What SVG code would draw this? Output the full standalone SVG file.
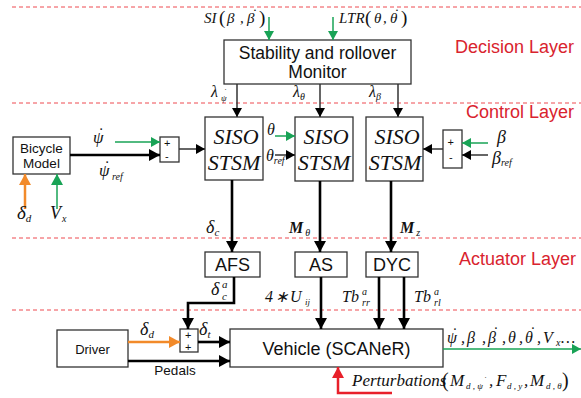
<svg xmlns="http://www.w3.org/2000/svg" width="581" height="398" viewBox="0 0 581 398">
<defs>
<style>
.dash{stroke:#ee4b50;stroke-width:1;stroke-dasharray:4,3;fill:none}
.layer{font-family:"Liberation Sans",Arial,sans-serif;font-size:18px;fill:#d9232e}
.box{fill:#fff;stroke:#333;stroke-width:1.3}
.sans{font-family:"Liberation Sans",Arial,sans-serif;fill:#111}
.it{font-family:"Liberation Serif","Times New Roman",serif;font-style:italic;fill:#111}
.up{font-family:"Liberation Serif","Times New Roman",serif;font-style:normal;fill:#111}
.dot{text-anchor:middle}
.thick{stroke:#000;stroke-width:2.6;fill:none}
.thin{stroke:#333;stroke-width:1.5;fill:none}
.green{stroke:#19a356;stroke-width:1.5;fill:none}
.orange{stroke:#f28a2a;stroke-width:2.5;fill:none}
.red{stroke:#e8202a;stroke-width:2.5;fill:none}
</style>
<marker id="aBig" markerUnits="userSpaceOnUse" markerWidth="12" markerHeight="12" refX="11" refY="6" orient="auto"><path d="M0,0 L11,6 L0,12 Z" fill="#000"/></marker>
<marker id="aMid" markerUnits="userSpaceOnUse" markerWidth="10" markerHeight="10" refX="9" refY="5" orient="auto"><path d="M0,0 L9,5 L0,10 Z" fill="#000"/></marker>
<marker id="aGreen" markerUnits="userSpaceOnUse" markerWidth="10" markerHeight="10" refX="9" refY="5" orient="auto"><path d="M0,0 L9,5 L0,10 Z" fill="#19a356"/></marker>
<marker id="aGreenBig" markerUnits="userSpaceOnUse" markerWidth="12" markerHeight="12" refX="11" refY="6" orient="auto"><path d="M0,0 L11,6 L0,12 Z" fill="#19a356"/></marker>
<marker id="aOrange" markerUnits="userSpaceOnUse" markerWidth="12" markerHeight="12" refX="11" refY="6" orient="auto"><path d="M0,0 L11,6 L0,12 Z" fill="#f28a2a"/></marker>
<marker id="aRed" markerUnits="userSpaceOnUse" markerWidth="12" markerHeight="12" refX="11" refY="6" orient="auto"><path d="M0,0 L11,6 L0,12 Z" fill="#e8202a"/></marker>
</defs>
<rect width="581" height="398" fill="#fff"/>

<g id="layers">
<line class="dash" x1="12" y1="7" x2="581" y2="7"/>
<line class="dash" x1="12" y1="103" x2="581" y2="103"/>
<line class="dash" x1="12" y1="238" x2="581" y2="238"/>
<line class="dash" x1="12" y1="310" x2="581" y2="310"/>
<text class="layer" x="455" y="53">Decision Layer</text>
<text class="layer" x="466" y="118">Control Layer</text>
<text class="layer" x="459" y="265">Actuator Layer</text>
</g>

<g id="monitor">
<rect class="box" x="224" y="40" width="187" height="44"/>
<text class="sans" x="317.5" y="59" font-size="17.5" text-anchor="middle">Stability and rollover</text>
<text class="sans" x="317.5" y="78" font-size="17.5" text-anchor="middle">Monitor</text>
</g>

<g id="bicycle">
<rect class="box" x="13" y="137" width="57" height="37"/>
<text class="sans" x="41.5" y="153" font-size="13.5" text-anchor="middle">Bicycle</text>
<text class="sans" x="41.5" y="168" font-size="13.5" text-anchor="middle">Model</text>
</g>

<g id="sub1">
<rect class="box" x="160" y="137" width="19" height="25" stroke="#000" stroke-width="1.6"/>
<text class="sans" x="164" y="147" font-size="11">+</text>
<text class="sans" x="165" y="160" font-size="11">-</text>
</g>

<g id="siso1">
<rect class="box" x="205" y="117" width="58" height="63"/>
<text class="it" x="236" y="144" font-size="22" text-anchor="middle">SISO</text>
<text class="it" x="234" y="170" font-size="22" text-anchor="middle">STSM</text>
</g>
<g id="siso2">
<rect class="box" x="295" y="117" width="58" height="64"/>
<text class="it" x="326" y="144" font-size="22" text-anchor="middle">SISO</text>
<text class="it" x="324" y="170" font-size="22" text-anchor="middle">STSM</text>
</g>
<g id="siso3">
<rect class="box" x="366" y="117" width="57" height="64"/>
<text class="it" x="397" y="144" font-size="22" text-anchor="middle">SISO</text>
<text class="it" x="395" y="170" font-size="22" text-anchor="middle">STSM</text>
</g>

<g id="sub2">
<rect class="box" x="443" y="130" width="19" height="38" stroke="#000" stroke-width="1.6"/>
<text class="sans" x="447.5" y="146" font-size="11">+</text>
<text class="sans" x="449" y="161" font-size="11">-</text>
</g>

<g id="afs">
<rect class="box" x="205" y="252" width="55" height="25"/>
<text class="sans" x="232.5" y="271" font-size="18" text-anchor="middle">AFS</text>
</g>
<g id="as">
<rect class="box" x="295" y="252" width="52" height="25"/>
<text class="sans" x="321" y="271" font-size="18" text-anchor="middle">AS</text>
</g>
<g id="dyc">
<rect class="box" x="366" y="252" width="52" height="25"/>
<text class="sans" x="392" y="271" font-size="18" text-anchor="middle">DYC</text>
</g>

<g id="sum">
<rect class="box" x="180" y="329" width="18" height="23" stroke="#000" stroke-width="1.6"/>
<text class="sans" x="185" y="339" font-size="11">+</text>
<text class="sans" x="185" y="351" font-size="11">+</text>
</g>

<g id="driver">
<rect class="box" x="57" y="330" width="71" height="37"/>
<text class="sans" x="92.5" y="354" font-size="13" text-anchor="middle">Driver</text>
</g>

<g id="vehicle">
<rect class="box" x="230" y="329" width="213" height="38"/>
<text class="sans" x="336.5" y="355" font-size="18" text-anchor="middle">Vehicle (SCANeR)</text>
</g>

<g id="connectors">
<line class="green" x1="269" y1="17" x2="269" y2="40" marker-end="url(#aGreen)"/>
<line class="green" x1="333" y1="17" x2="333" y2="40" marker-end="url(#aGreen)"/>
<line class="thin" x1="237" y1="84" x2="237" y2="117" marker-end="url(#aMid)"/>
<line class="thin" x1="320" y1="84" x2="320" y2="117" marker-end="url(#aMid)"/>
<line class="thin" x1="398" y1="84" x2="398" y2="117" marker-end="url(#aMid)"/>
<line class="thick" x1="70" y1="155" x2="160" y2="155" marker-end="url(#aBig)"/>
<line class="green" x1="115" y1="142" x2="160" y2="142" marker-end="url(#aGreen)"/>
<line class="thin" x1="179" y1="149" x2="205" y2="149" marker-end="url(#aMid)"/>
<line class="orange" x1="25" y1="209" x2="25" y2="174" marker-end="url(#aOrange)"/>
<line class="green" x1="57" y1="209" x2="57" y2="174" stroke-width="2.5" marker-end="url(#aGreenBig)"/>
<line class="green" x1="275" y1="136" x2="295" y2="136" marker-end="url(#aGreen)"/>
<line class="thin" x1="275" y1="155" x2="295" y2="155" marker-end="url(#aMid)"/>
<line class="green" x1="488" y1="143" x2="462" y2="143" marker-end="url(#aGreen)"/>
<line class="thin" x1="488" y1="155" x2="462" y2="155" marker-end="url(#aMid)"/>
<line class="thin" x1="443" y1="149" x2="423" y2="149" marker-end="url(#aMid)"/>
<line class="thick" x1="232" y1="180" x2="232" y2="252" marker-end="url(#aBig)"/>
<line class="thick" x1="320" y1="181" x2="320" y2="252" marker-end="url(#aBig)"/>
<line class="thick" x1="391" y1="181" x2="391" y2="252" marker-end="url(#aBig)"/>
<polyline class="thick" points="234,277 234,303 188,303 188,329" marker-end="url(#aBig)"/>
<line class="thick" x1="321" y1="277" x2="321" y2="329" marker-end="url(#aBig)"/>
<line class="thick" x1="379" y1="277" x2="379" y2="329" marker-end="url(#aBig)"/>
<line class="thick" x1="404" y1="277" x2="404" y2="329" marker-end="url(#aBig)"/>
<line class="orange" x1="128" y1="342" x2="180" y2="342" marker-end="url(#aOrange)"/>
<line class="thick" x1="198" y1="342" x2="230" y2="342" marker-end="url(#aBig)"/>
<line class="thick" x1="128" y1="361" x2="230" y2="361" marker-end="url(#aBig)"/>
<line class="green" x1="443" y1="349" x2="581" y2="349" marker-end="url(#aGreen)"/>
<polyline class="red" points="392,393 338,393 338,367" marker-end="url(#aRed)"/>
</g>

<g id="labels">
<text class="it" x="204" y="23" font-size="15">SI<tspan class="up" x="219" y="24" font-size="19">(</tspan><tspan x="227" y="23">β</tspan><tspan x="240">,</tspan><tspan x="247">β</tspan><tspan class="dot" x="254" y="19">˙</tspan><tspan class="up" x="259" y="24" font-size="19">)</tspan></text>

<text class="it" x="339" y="23" font-size="15">LTR<tspan class="up" x="365" y="24" font-size="19">(</tspan><tspan x="374" y="23">θ</tspan><tspan x="383">,</tspan><tspan x="390">θ</tspan><tspan class="dot" x="396" y="19">˙</tspan><tspan class="up" x="401" y="24" font-size="19">)</tspan></text>

<text class="it" x="211" y="97" font-size="16">λ<tspan x="221" y="101" font-size="9">ψ</tspan><tspan class="dot" x="225" y="95" font-size="9">˙</tspan></text>
<text class="it" x="293" y="97" font-size="16">λ<tspan font-size="10" dy="3">θ</tspan></text>
<text class="it" x="369" y="97" font-size="16">λ<tspan font-size="10" dy="3">β</tspan></text>

<text class="it" x="93" y="143" font-size="17">ψ<tspan class="dot" x="100" y="139">˙</tspan></text>
<text class="it" x="99" y="176" font-size="17">ψ<tspan class="dot" x="106" y="172">˙</tspan><tspan x="112" y="180" font-size="10">ref</tspan></text>

<text class="it" x="17" y="219" font-size="19">δ<tspan font-size="11" dy="3">d</tspan></text>
<text class="it" x="50" y="219" font-size="18">V<tspan font-size="10" dy="3" dx="1">x</tspan></text>

<text class="it" x="267" y="135" font-size="16">θ</text>
<text class="it" x="266" y="161" font-size="16">θ<tspan font-size="10" dy="3">ref</tspan></text>

<text class="it" x="497" y="143" font-size="18">β</text>
<text class="it" x="492" y="164" font-size="18">β<tspan font-size="10" dy="2">ref</tspan></text>

<text class="it" x="206" y="233" font-size="18">δ<tspan font-size="11" dy="3">c</tspan></text>
<text class="it" x="289" y="233" font-size="16" font-weight="bold">M<tspan font-size="10" dy="3" dx="2" font-weight="normal">θ</tspan></text>
<text class="it" x="400" y="233" font-size="16" font-weight="bold">M<tspan font-size="10" dy="3" dx="2" font-weight="normal">z</tspan></text>

<text class="it" x="211" y="295" font-size="18">δ<tspan x="222" y="288" font-size="11">a</tspan><tspan x="222" y="300" font-size="11">c</tspan></text>

<text class="it" x="265" y="302" font-size="16">4<tspan x="275">∗</tspan><tspan x="290">U</tspan><tspan x="305" y="305" font-size="9">ij</tspan></text>

<text class="it" x="342" y="302" font-size="16">Tb<tspan x="362" y="295" font-size="10">a</tspan><tspan x="362" y="306" font-size="10">rr</tspan></text>
<text class="it" x="414" y="302" font-size="16">Tb<tspan x="434" y="295" font-size="10">a</tspan><tspan x="434" y="306" font-size="10">rl</tspan></text>

<text class="it" x="140" y="335" font-size="18">δ<tspan font-size="11" dy="3">d</tspan></text>
<text class="it" x="199" y="335" font-size="18">δ<tspan font-size="11" dy="3">t</tspan></text>
<text class="sans" x="175" y="375" font-size="13.5" text-anchor="middle">Pedals</text>

<text class="it" x="447" y="343" font-size="16">ψ<tspan class="dot" x="454" y="339">˙</tspan><tspan x="461" y="343">,</tspan><tspan x="467">β</tspan><tspan x="482">,</tspan><tspan x="488">β</tspan><tspan class="dot" x="495" y="338">˙</tspan><tspan x="502" y="343">,</tspan><tspan x="508">θ</tspan><tspan x="519">,</tspan><tspan x="525">θ</tspan><tspan class="dot" x="532" y="338">˙</tspan><tspan x="537" y="343">,</tspan><tspan x="543">V</tspan><tspan x="556" y="346" font-size="10">x</tspan><tspan x="561" y="343">…</tspan></text>

<text class="it" x="352" y="386" font-size="17">Perturbations<tspan class="up" x="442" y="387" font-size="20">(</tspan><tspan x="450" y="386">M</tspan><tspan x="466" y="389" font-size="9">d , ψ</tspan><tspan class="dot" x="485" y="383" font-size="9">˙</tspan><tspan x="489" y="386">,</tspan><tspan x="496">F</tspan><tspan x="507" y="389" font-size="9">d , y</tspan><tspan x="524" y="386">,</tspan><tspan x="530">M</tspan><tspan x="546" y="389" font-size="9">d , θ</tspan><tspan class="up" x="562" y="387" font-size="20">)</tspan></text>
</g>
</svg>
